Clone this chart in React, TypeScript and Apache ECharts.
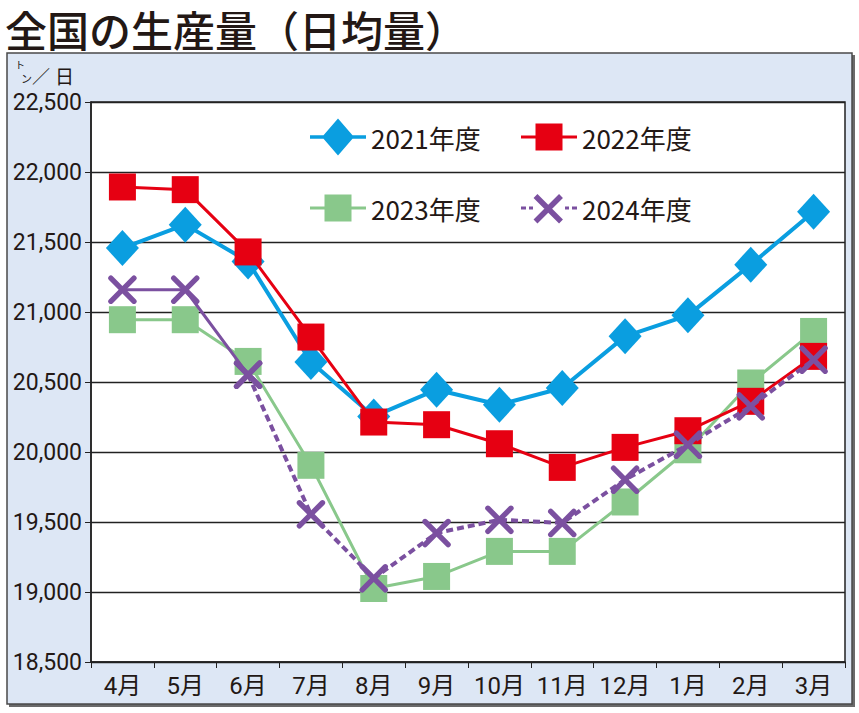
import React, { useEffect, useRef } from "react";
import * as echarts from "echarts";

const months = ["4月", "5月", "6月", "7月", "8月", "9月", "10月", "11月", "12月", "1月", "2月", "3月"];
const fy2021 = [21457, 21624, 21361, 20643, 20254, 20445, 20338, 20457, 20826, 20976, 21338, 21716];
const fy2022 = [21893, 21874, 21429, 20821, 20214, 20195, 20059, 19890, 20033, 20152, 20362, 20683];
const fy2023 = [20945, 20945, 20647, 19905, 19025, 19111, 19290, 19290, 19643, 20016, 20493, 20861];
const fy2024 = [21159, 21159, 20552, 19555, 19098, 19421, 19516, 19493, 19802, 20052, 20326, 20659];
const yTicks = [18500, 19000, 19500, 20000, 20500, 21000, 21500, 22000, 22500];

const BLUE = "#0a9ee0";
const RED = "#e60012";
const GREEN = "#89c88b";
const PURPLE = "#7b50a0";

const NAMES = ["2021年度", "2022年度", "2023年度", "2024年度"];

// plus with rounded ends; rotated 45 deg => X
const X_SYMBOL =
  "path://M4.3,0.7 A0.7,0.7 0 0 1 5.7,0.7 V4.3 H9.3 A0.7,0.7 0 0 1 9.3,5.7 H5.7 V9.3 A0.7,0.7 0 0 1 4.3,9.3 V5.7 H0.7 A0.7,0.7 0 0 1 0.7,4.3 H4.3 Z";

const TINY = "M28,0 L28.02,0 L28,0.02 Z M28,38 L28.02,38 L28,37.98 Z";
const ICON_DIAMOND = "path://M0,17.2 H56 V20.8 H0 Z M28,0.5 L44,19 L28,37.5 L12,19 Z " + TINY;
const ICON_SQUARE = "path://M0,17.5 H56 V20.5 H0 Z M14.5,5.5 H41.5 V32.5 H14.5 Z " + TINY;
const ICON_X =
  "path://M0,17.5 H5 V20.5 H0 Z M8,17.5 H12 V20.5 H8 Z M44,17.5 H48 V20.5 H44 Z M51,17.5 H56 V20.5 H51 Z " +
  "M16.44,5.06 L41.94,30.56 L38.06,34.44 L12.56,8.94 Z M38.06,5.06 L41.94,8.94 L16.44,34.44 L12.56,30.56 Z " +
  TINY;

export default function App() {
  const ref = useRef<HTMLDivElement>(null);

  useEffect(() => {
    if (!ref.current) return;
    const chart = echarts.init(ref.current, null, { renderer: "svg" });
    const axisFont = "Roboto, 'Noto Sans CJK JP', sans-serif";
    const legendFont = "'Noto Sans CJK JP', sans-serif";

    const mkLegend = (i: number, left: number, top: number, icon: string, color: string) => ({
      show: true,
      left,
      top,
      padding: 0,
      itemWidth: 56,
      itemHeight: 38,
      itemGap: 0,
      selectedMode: false,
      textStyle: { fontSize: 26, color: "#231815", fontFamily: legendFont },
      data: [{ name: NAMES[i], icon, itemStyle: { color, borderWidth: 0 } }],
    });

    const solid2024 = fy2024.map((v, i) => (i <= 2 ? v : "-"));
    const dashed2024 = fy2024.map((v, i) => (i >= 2 ? v : "-"));

    chart.setOption({
      animation: false,
      title: {
        text: "全国の生産量（日均量）",
        left: 5,
        top: 6,
        padding: 0,
        textStyle: {
          fontSize: 42,
          fontWeight: 500,
          fontFamily: "'Noto Sans CJK JP', sans-serif",
          color: "#231815",
          lineHeight: 44,
        },
      },
      graphic: [
        {
          type: "rect",
          z: -20,
          shape: { x: 9, y: 55, width: 846, height: 652 },
          style: { fill: "#6a6a6a" },
        },
        {
          type: "rect",
          z: -19,
          shape: { x: 7, y: 53, width: 845, height: 651 },
          style: { fill: "#dde7f5", stroke: "#4a4a4a", lineWidth: 1.5 },
        },
        {
          type: "text",
          x: 15,
          y: 64,
          style: { text: "ト", fontSize: 10, fontFamily: legendFont, fill: "#231815", verticalAlign: "middle" },
        },
        {
          type: "text",
          x: 21,
          y: 78,
          style: { text: "ン", fontSize: 11, fontFamily: legendFont, fill: "#231815", verticalAlign: "middle" },
        },
        {
          type: "text",
          x: 32,
          y: 75,
          style: { text: "／", fontSize: 18, fontFamily: legendFont, fill: "#231815", verticalAlign: "middle" },
        },
        {
          type: "text",
          x: 55,
          y: 75,
          style: { text: "日", fontSize: 19, fontFamily: legendFont, fill: "#231815", verticalAlign: "middle" },
        },
      ],
      legend: [
        mkLegend(0, 310, 118, ICON_DIAMOND, BLUE),
        mkLegend(1, 521, 118, ICON_SQUARE, RED),
        mkLegend(2, 310, 189, ICON_SQUARE, GREEN),
        mkLegend(3, 521, 189, ICON_X, PURPLE),
      ],
      grid: {
        left: 91,
        right: 14,
        top: 102,
        bottom: 51,
        show: true,
        backgroundColor: "#ffffff",
        borderColor: "#222222",
        borderWidth: 1.5,
      },
      xAxis: {
        type: "category",
        data: months,
        boundaryGap: true,
        axisLine: { show: true, lineStyle: { color: "#222", width: 1.5 } },
        axisTick: { show: true, length: 6, inside: false, interval: 0, lineStyle: { color: "#222", width: 1 } },
        axisLabel: { fontSize: 24, color: "#231815", fontFamily: axisFont, margin: 12, interval: 0 },
        splitLine: { show: false },
      },
      yAxis: {
        type: "value",
        min: yTicks[0],
        max: yTicks[yTicks.length - 1],
        interval: 500,
        axisLine: { show: true, lineStyle: { color: "#222", width: 1.5 } },
        axisTick: { show: true, length: 6, lineStyle: { color: "#222", width: 1 } },
        axisLabel: {
          fontSize: 23,
          color: "#231815",
          fontFamily: axisFont,
          margin: 9,
          formatter: (v: number) => v.toLocaleString("en-US"),
        },
        splitLine: { show: true, lineStyle: { color: "#222", width: 1.3 } },
      },
      series: [
        {
          name: NAMES[0],
          type: "line",
          data: fy2021,
          symbol: "diamond",
          symbolSize: [33, 36],
          lineStyle: { color: BLUE, width: 4 },
          itemStyle: { color: BLUE, borderWidth: 0 },
          z: 2,
        },
        {
          name: NAMES[2],
          type: "line",
          data: fy2023,
          symbol: "rect",
          symbolSize: 27,
          lineStyle: { color: GREEN, width: 3 },
          itemStyle: { color: GREEN, borderWidth: 0 },
          z: 3,
        },
        {
          name: NAMES[1],
          type: "line",
          data: fy2022,
          symbol: "rect",
          symbolSize: 27,
          lineStyle: { color: RED, width: 3 },
          itemStyle: { color: RED, borderWidth: 0 },
          z: 4,
        },
        {
          name: "2024年度(実線)",
          type: "line",
          data: solid2024,
          symbol: X_SYMBOL,
          symbolSize: 38,
          symbolRotate: 45,
          lineStyle: { color: PURPLE, width: 3 },
          itemStyle: { color: PURPLE, borderWidth: 0 },
          z: 5,
        },
        {
          name: NAMES[3],
          type: "line",
          data: dashed2024,
          symbol: X_SYMBOL,
          symbolSize: 38,
          symbolRotate: 45,
          lineStyle: { color: PURPLE, width: 4, type: [7, 4] },
          itemStyle: { color: PURPLE, borderWidth: 0 },
          z: 5,
        },
      ],
    });

    return () => chart.dispose();
  }, []);

  return (
    <div
      ref={ref}
      style={{ position: "fixed", left: 0, top: 0, width: 859, height: 713, background: "#ffffff" }}
    />
  );
}
